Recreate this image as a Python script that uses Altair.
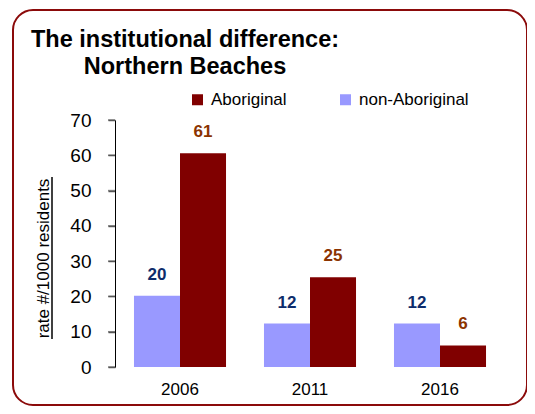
import altair as alt
import pandas as pd

years = ["2006", "2011", "2016"]
aboriginal = [60.6, 25.4, 6.1]
non_aboriginal = [20.2, 12.3, 12.3]
groups = ["Aboriginal", "non-Aboriginal"]
group_colors = ["#800000", "#9999FF"]
y_ticks = [0, 10, 20, 30, 40, 50, 60, 70]
title_lines = ["The institutional difference:", "Northern Beaches"]
y_title = "rate #/1000 residents"

FONT = "Liberation Sans, Arial, Helvetica, sans-serif"

rows = []
for i, yr in enumerate(years):
    rows.append({"year": yr, "group": "Aboriginal", "value": aboriginal[i]})
    rows.append({"year": yr, "group": "non-Aboriginal", "value": non_aboriginal[i]})
df = pd.DataFrame(rows)
ticks_df = pd.DataFrame({"value": y_ticks})

one = pd.DataFrame({"k": [0]})

x_axis = alt.Axis(title=None, labelAngle=0, domain=False, ticks=False,
                  labelFontSize=17, labelFont=FONT, labelColor="#000000",
                  labelPadding=14)
y_axis = alt.Axis(values=y_ticks, tickCount=8, grid=False, title=y_title,
                  labelOverlap=False, labelFlush=False,
                  domainColor="#000000", domainWidth=1,
                  ticks=True, tickColor="#555555", tickWidth=1.5, tickSize=7,
                  labelPadding=17,
                  labelFontSize=19, labelFont=FONT, labelColor="#000000",
                  titleFont=FONT, titleFontSize=17, titleFontWeight="normal",
                  titleColor="#000000", titleAngle=270, titleX=-72, titleY=138,
                  titleAlign="center", titleBaseline="middle")

x_enc = alt.X("year:N", sort=years,
              scale=alt.Scale(paddingInner=0.292, paddingOuter=0.146),
              axis=x_axis)
xoff = alt.XOffset("group:N", sort=["non-Aboriginal", "Aboriginal"])
y_enc = alt.Y("value:Q", scale=alt.Scale(domain=[0, 70], nice=False, zero=True),
              axis=y_axis)

bars = alt.Chart(df).mark_bar(strokeWidth=0).encode(
    x=x_enc,
    xOffset=xoff,
    y=y_enc,
    color=alt.Color("group:N",
                    scale=alt.Scale(domain=groups, range=group_colors),
                    legend=alt.Legend(title=None, orient="none", direction="horizontal",
                                      legendX=74, legendY=-29, padding=0,
                                      symbolType="square", symbolSize=121,
                                      symbolStrokeWidth=0, labelFontSize=17,
                                      labelFont=FONT, labelColor="#000000",
                                      labelOffset=5, columnPadding=50)),
)

labels = alt.Chart(df).mark_text(fontSize=17, fontWeight="bold", font=FONT,
                                 baseline="alphabetic", dy=-16).encode(
    x=x_enc,
    xOffset=xoff,
    y=y_enc,
    text=alt.Text("value:Q", format=".0f"),
    color=alt.condition(alt.datum.group == "Aboriginal",
                        alt.value("#8B3300"), alt.value("#0E2C6B")),
)

tick_marks = alt.Chart(ticks_df).mark_tick(color="#555555", thickness=1.5, size=7,
                                           orient="horizontal", xOffset=-3.5).encode(
    y=y_enc, x=alt.value(0))

border = alt.Chart(one).mark_rect(fillOpacity=0, stroke="#8B0A0A", strokeWidth=2,
                                  cornerRadius=20).encode(
    x=alt.value(-102), x2=alt.value(412), y=alt.value(-110), y2=alt.value(285))

underline = alt.Chart(one).mark_rule(color="#000000", strokeWidth=1.5).encode(
    x=alt.value(-63), y=alt.value(57), y2=alt.value(219))

title1 = alt.Chart(one).mark_text(text=title_lines[0], fontSize=23.5, fontWeight="bold",
                                  font=FONT, align="center", baseline="alphabetic",
                                  color="#000000").encode(
    x=alt.value(70), y=alt.value(-73))
title2 = alt.Chart(one).mark_text(text=title_lines[1], fontSize=23.5, fontWeight="bold",
                                  font=FONT, align="center", baseline="alphabetic",
                                  color="#000000").encode(
    x=alt.value(70), y=alt.value(-46))

chart = alt.layer(border, bars, labels, tick_marks, underline, title1, title2).properties(
    width=390, height=247,
    autosize=alt.AutoSizeParams(type="none"),
    padding={"left": 107, "top": 112, "right": 22, "bottom": 39},
    background="#FFFFFF",
).configure_view(stroke=None)

chart.save("out.html", embed_options={"renderer": "svg", "actions": False})
